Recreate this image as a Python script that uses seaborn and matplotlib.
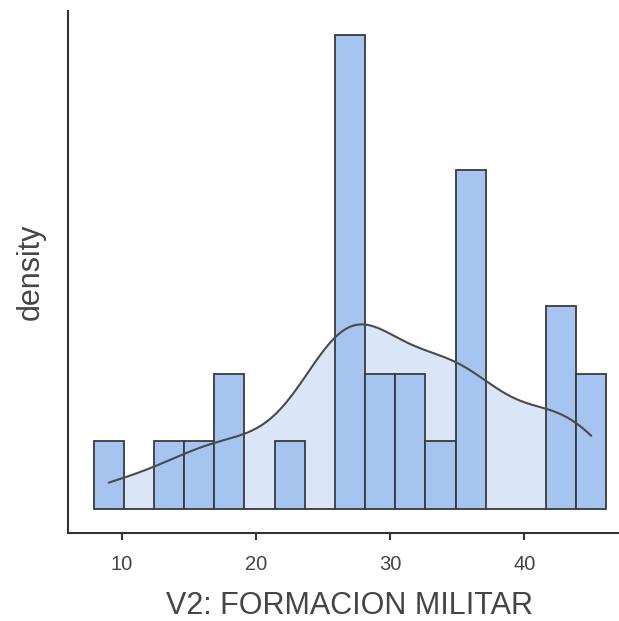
import numpy as np
import matplotlib
matplotlib.use("Agg")
import matplotlib.pyplot as plt
import seaborn as sns
import pandas as pd

# Scores on the V2 scale (n = 28)
scores = [9, 14, 16, 19, 19, 23,
          26, 26, 26, 27, 27, 27, 27,
          29, 29, 32, 32, 33,
          35, 36, 36, 36, 36,
          42, 42, 42, 44, 45]
n_bins = 17
x_ticks = [10, 20, 30, 40]
x_label = "V2: FORMACION MILITAR"
y_label = "density"

df = pd.DataFrame({"V2": scores})

sns.set_theme(style="white")
plt.rcParams["font.family"] = ["Liberation Sans", "DejaVu Sans"]

bar_color = "#a6c4f0"
kde_fill = "#dae5f7"
edge = "#3a3a3a"
text_color = "#454545"

# bins centred on the data range, like ggplot's default layout
lo, hi = min(scores), max(scores)
width = (hi - lo) / (n_bins - 1)
edges = np.linspace(lo - width / 2, hi + width / 2, n_bins + 1)

# R-style bw.nrd0 bandwidth expressed as a factor of the sample sd
arr = np.asarray(scores, dtype=float)
sd = arr.std(ddof=1)
iqr = np.subtract(*np.percentile(arr, [75, 25]))
bw = 0.9 * min(sd, iqr / 1.34) * len(arr) ** (-0.2)
bw_factor = bw / sd

W, H = 619, 621
fig = plt.figure(figsize=(W / 100, H / 100), dpi=100)
ax_left, ax_right, ax_top, ax_bottom = 68, 632, 11, 533
ax = fig.add_axes([ax_left / W, 1 - ax_bottom / H,
                   (ax_right - ax_left) / W, (ax_bottom - ax_top) / H])

# filled density behind the bars
sns.kdeplot(data=df, x="V2", ax=ax, bw_method=bw_factor, cut=0,
            fill=True, color=kde_fill, alpha=1.0, linewidth=0, zorder=1)
sns.histplot(data=df, x="V2", ax=ax, bins=edges, stat="density",
             color=bar_color, alpha=1.0, edgecolor=edge, linewidth=1.3,
             zorder=2)
# density outline on top
sns.kdeplot(data=df, x="V2", ax=ax, bw_method=bw_factor, cut=0,
            color="#4a4a4a", linewidth=1.5, zorder=3)

ymax = max(np.histogram(scores, bins=edges, density=True)[0])
ax.set_xlim(edges[0] - 0.05 * (edges[-1] - edges[0]),
            edges[-1] + 0.05 * (edges[-1] - edges[0]))
ax.set_ylim(-0.05 * ymax, ymax * 1.05)

ax.set_xticks(x_ticks)
ax.set_xticklabels([str(t) for t in x_ticks])
ax.set_yticks([])
ax.tick_params(axis="x", length=5, width=1.5, color="#333333",
               labelsize=14.5, labelcolor=text_color, pad=11, bottom=True)
ax.set_xlabel(x_label, fontsize=22, color=text_color, labelpad=12)
ax.set_ylabel(y_label, fontsize=22, color=text_color, labelpad=16)

for side in ["top", "right"]:
    ax.spines[side].set_visible(False)
for side in ["left", "bottom"]:
    ax.spines[side].set_color("#333333")
    ax.spines[side].set_linewidth(1.5)

fig.savefig("out.png", dpi=100)
